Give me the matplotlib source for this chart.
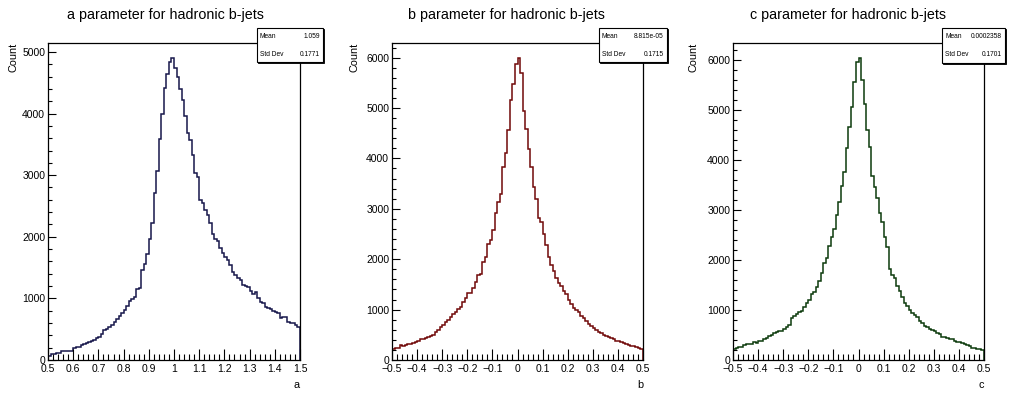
import numpy as np
import matplotlib
matplotlib.use('Agg')
import matplotlib.pyplot as plt
from matplotlib.patches import Rectangle
from matplotlib.ticker import MultipleLocator, FuncFormatter

plt.rcParams['font.family'] = ['Liberation Sans', 'DejaVu Sans']

# bin contents (100 bins per histogram)
a_counts = [70, 90, 100, 110, 120, 150, 140, 150, 145, 150,
            200, 205, 215, 250, 260, 280, 295, 310, 320, 350,
            370, 420, 480, 500, 540, 560, 620, 660, 720, 760,
            810, 870, 950, 990, 1030, 1150, 1170, 1460, 1550, 1720,
            1970, 2230, 2710, 3065, 3585, 4000, 4420, 4640, 4830, 4900,
            4746, 4595, 4405, 4216, 3957, 3686, 3568, 3324, 3038, 2973,
            2595, 2541, 2432, 2351, 2216, 2038, 1962, 1930, 1811, 1730,
            1665, 1622, 1541, 1432, 1378, 1335, 1297, 1216, 1205, 1189,
            1124, 1070, 1097, 1000, 946, 919, 865, 838, 822, 800,
            784, 757, 686, 692, 703, 622, 595, 595, 568, 541]

b_counts = [225, 230, 240, 290, 280, 300, 320, 310, 330, 360,
            370, 410, 420, 440, 460, 480, 500, 560, 600, 650,
            690, 760, 800, 850, 910, 960, 1020, 1050, 1150, 1240,
            1320, 1330, 1420, 1550, 1680, 1710, 1940, 2050, 2300, 2390,
            2570, 2910, 3130, 3290, 3820, 4110, 4560, 5150, 5470, 5870,
            5990, 5700, 4950, 4590, 4190, 3820, 3430, 3190, 2810, 2730,
            2500, 2290, 2050, 1880, 1760, 1620, 1530, 1460, 1370, 1300,
            1200, 1120, 1030, 990, 950, 880, 840, 780, 720, 680,
            640, 600, 560, 530, 500, 480, 455, 440, 410, 380,
            385, 360, 340, 320, 300, 285, 270, 250, 240, 225]

c_counts = [213, 233, 267, 267, 300, 320, 313, 320, 353, 347,
            380, 380, 413, 447, 480, 500, 533, 567, 580, 580,
            613, 653, 700, 847, 880, 920, 967, 987, 1067, 1133,
            1200, 1320, 1367, 1467, 1587, 1733, 1947, 2033, 2287, 2467,
            2613, 2900, 3167, 3487, 3753, 4233, 4653, 5053, 5547, 5947,
            6033, 5600, 5113, 4600, 4253, 3680, 3467, 3233, 2947, 2767,
            2467, 2253, 1813, 1700, 1633, 1480, 1387, 1267, 1133, 1080,
            1000, 933, 900, 867, 780, 733, 680, 653, 613, 600,
            580, 533, 520, 467, 467, 447, 420, 413, 387, 367,
            353, 333, 320, 300, 280, 247, 233, 213, 220, 200]

x_ranges = [(0.5, 1.5), (-0.5, 0.5), (-0.5, 0.5)]
n_bins = 100
titles = ['a parameter for hadronic b-jets',
          'b parameter for hadronic b-jets',
          'c parameter for hadronic b-jets']
xlabels = ['a', 'b', 'c']
stats_mean = ['1.059', '8.815e-05', '0.0002358']
stats_std = ['0.1771', '0.1715', '0.1701']
colors = ['#16164a', '#700808', '#0c3a0c']

W, H = 1010, 394


def fx(px):
    return px / W


def fy(py):
    return 1 - py / H


# pixel layout of the three pads
ax_left = [48, 392, 733]
ax_width = [252, 251, 251]
ax_top, ax_bottom = 43, 360
title_x = [165, 506, 848]
ylab_off = [34.5, 38, 39.5]
stat_boxes = [(257, 28, 323, 62), (599, 28, 667, 62), (942, 28, 1005, 63)]


def tick_fmt(v, pos):
    s = '%g' % (round(v, 3) + 0.0)
    return s.replace('-', '\u2212')


fig = plt.figure(figsize=(W / 100, H / 100), dpi=100)

all_counts = [a_counts, b_counts, c_counts]
for i in range(3):
    counts = np.array(all_counts[i], dtype=float)
    lo, hi = x_ranges[i]
    edges = np.linspace(lo, hi, n_bins + 1)

    ax = fig.add_axes([fx(ax_left[i]), fy(ax_bottom),
                       ax_width[i] / W, (ax_bottom - ax_top) / H])
    ax.stairs(counts, edges, color=colors[i], linewidth=1.1)
    ax.set_xlim(lo, hi)
    ax.set_ylim(0, counts.max() * 1.05)

    ax.xaxis.set_major_locator(MultipleLocator(0.1))
    ax.xaxis.set_minor_locator(MultipleLocator(0.02))
    ax.xaxis.set_major_formatter(FuncFormatter(tick_fmt))
    ax.yaxis.set_major_locator(MultipleLocator(1000))
    ax.yaxis.set_minor_locator(MultipleLocator(200))

    ax.tick_params(which='both', direction='in', top=False, right=False,
                   width=0.8, labelsize=7.5)
    ax.tick_params(axis='x', which='major', length=8, pad=3)
    ax.tick_params(axis='x', which='minor', length=4)
    ax.tick_params(axis='y', which='major', length=6, pad=2)
    ax.tick_params(axis='y', which='minor', length=3)
    for sp in ax.spines.values():
        sp.set_linewidth(0.9)

    ax.text(-ylab_off[i] / ax_width[i], 1.0, 'Count', transform=ax.transAxes,
            rotation=90, ha='center', va='top', fontsize=7.8)
    ax.text(1.0, -25 / (ax_bottom - ax_top), xlabels[i], transform=ax.transAxes,
            ha='right', va='center', fontsize=7.8)

    fig.text(fx(title_x[i]), fy(15), titles[i], ha='center', va='center',
             fontsize=10.3)

    # stats box
    x0, y0, x1, y1 = stat_boxes[i]
    fig.add_artist(Rectangle((fx(x0 + 1), fy(y1 + 1)), (x1 - x0) / W, (y1 - y0) / H,
                             transform=fig.transFigure, facecolor='black',
                             edgecolor='black', linewidth=0.6, zorder=4))
    fig.add_artist(Rectangle((fx(x0), fy(y1)), (x1 - x0) / W, (y1 - y0) / H,
                             transform=fig.transFigure, facecolor='white',
                             edgecolor='black', linewidth=0.8, zorder=5))
    for row_y, name, val in [(37, 'Mean', stats_mean[i]),
                             (55, 'Std Dev', stats_std[i])]:
        fig.text(fx(x0 + 3), fy(row_y), name, ha='left', va='center',
                 fontsize=4.8, zorder=6)
        fig.text(fx(x1 - 3), fy(row_y), val, ha='right', va='center',
                 fontsize=4.8, zorder=6)

fig.savefig('out.png', dpi=100, facecolor='white')
